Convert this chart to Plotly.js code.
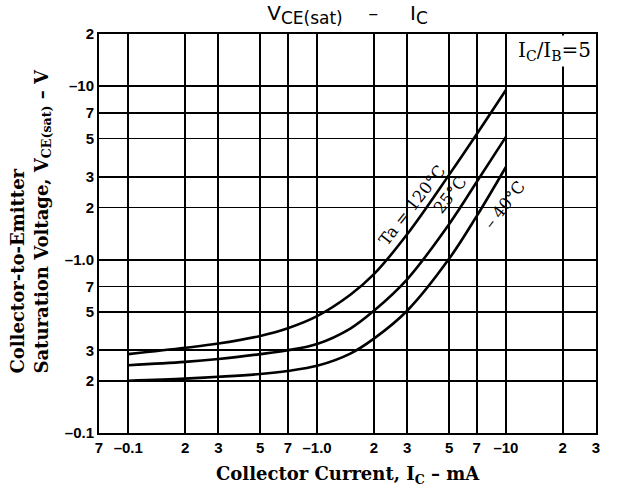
<!DOCTYPE html>
<html>
<head>
<meta charset="utf-8">
<script src="https://cdn.plot.ly/plotly-3.0.1.min.js"></script>
<style>html,body{margin:0;padding:0;background:#fff;}#chart{width:620px;height:496px;}</style>
</head>
<body>
<div id="chart"></div>
<script>
// Collector current I_C (mA)
const collectorCurrent = [0.1, 0.2, 0.3, 0.5, 0.7, 1.0, 1.5, 2, 3, 5, 7, 10];
// V_CE(sat) (V) for each ambient temperature
const vce120 = [0.285, 0.31, 0.328, 0.363, 0.402, 0.472, 0.627, 0.824, 1.40, 3.08, 5.28, 9.5];
const vce25  = [0.246, 0.257, 0.267, 0.285, 0.30, 0.326, 0.40, 0.507, 0.77, 1.6, 2.8, 5.1];
const vceM40 = [0.200, 0.206, 0.211, 0.219, 0.228, 0.244, 0.287, 0.35, 0.507, 1.01, 1.78, 3.42];
const seriesNames = ["Ta = 120°C", "25°C", "– 40°C"];

const xTickVals = [0.07, 0.1, 0.2, 0.3, 0.5, 0.7, 1, 2, 3, 5, 7, 10, 20, 30];
const xTickText = ["7", "–0.1", "2", "3", "5", "7", "–1.0", "2", "3", "5", "7", "–10", "2", "3"];
const yTickVals = [0.1, 0.2, 0.3, 0.5, 0.7, 1, 2, 3, 5, 7, 10, 20];
const yTickText = ["–0.1", "2", "3", "5", "7", "–1.0", "2", "3", "5", "7", "–10", "2"];

const lineStyle = {color: "#000", width: 2.6, shape: "spline", smoothing: 1};
const traces = [vce120, vce25, vceM40].map((v, i) => ({
  x: collectorCurrent, y: v, type: "scatter", mode: "lines",
  name: seriesNames[i], line: lineStyle, hoverinfo: "skip"
}));

const tickFont = {family: "Liberation Sans, Arial, sans-serif", size: 15, color: "#000", weight: "bold"};
const serifBold = {family: "DejaVu Serif, serif", size: 18, color: "#000", weight: "bold"};
const serifReg = {family: "DejaVu Serif, serif", size: 16.5, color: "#000"};

const nb = "\u00a0";
const titleText = "V<sub><span style=\"font-size:17px\">CE(sat)</span></sub>" + nb.repeat(4) + "–" +
                  nb.repeat(5) + "I<sub><span style=\"font-size:17px\">C</span></sub>";

const layout = {
  width: 620, height: 496,
  margin: {l: 99, r: 24, t: 34, b: 63},
  paper_bgcolor: "#fff", plot_bgcolor: "#fff",
  showlegend: false,
  title: {
    text: titleText,
    font: {family: "DejaVu Sans, sans-serif", size: 20, color: "#000"},
    xref: "paper", x: 0.5, xanchor: "center",
    yref: "container", y: 0.988, yanchor: "top"
  },
  xaxis: {
    type: "log",
    range: [Math.log10(0.07), Math.log10(30)],
    tickvals: xTickVals, ticktext: xTickText,
    tickfont: tickFont, ticks: "",
    showgrid: true, gridcolor: "#000", gridwidth: 1.8,
    showline: true, linecolor: "#000", linewidth: 2, mirror: true,
    zeroline: false
  },
  yaxis: {
    type: "log",
    range: [Math.log10(0.1), Math.log10(20)],
    tickvals: yTickVals, ticktext: yTickText,
    tickfont: tickFont, ticks: "",
    showgrid: true, gridcolor: "#000", gridwidth: 1.8,
    showline: true, linecolor: "#000", linewidth: 2, mirror: true,
    zeroline: false
  },
  annotations: [
    {text: "Collector Current, I<sub>C</sub> – mA", xref: "paper", yref: "paper",
     x: 0.5, y: -0.07, xanchor: "center", yanchor: "top", showarrow: false, font: serifBold},
    {text: "Collector-to-Emitter<br>Saturation Voltage, V<sub>CE(sat)</sub> – V", xref: "paper", yref: "paper",
     x: -0.137, y: 0.145, xanchor: "center", yanchor: "bottom", textangle: -90, align: "left",
     showarrow: false, font: serifBold},
    {text: "I<sub>C</sub>/I<sub>B</sub>=5", xref: "paper", yref: "paper",
     x: 0.995, y: 0.997, xanchor: "right", yanchor: "top", showarrow: false,
     bgcolor: "#fff", borderpad: 2, font: {family: "DejaVu Serif, serif", size: 20, color: "#000"}},
    {text: seriesNames[0], xref: "paper", yref: "paper", x: 0.630, y: 0.571,
     xanchor: "center", yanchor: "middle", textangle: -52, showarrow: false, font: serifReg},
    {text: seriesNames[1], xref: "paper", yref: "paper", x: 0.707, y: 0.598,
     xanchor: "center", yanchor: "middle", textangle: -52, showarrow: false, font: serifReg},
    {text: seriesNames[2], xref: "paper", yref: "paper", x: 0.815, y: 0.571,
     xanchor: "center", yanchor: "middle", textangle: -52, showarrow: false, font: serifReg}
  ]
};

Plotly.newPlot("chart", traces, layout, {displayModeBar: false, staticPlot: true});
</script>
</body>
</html>
